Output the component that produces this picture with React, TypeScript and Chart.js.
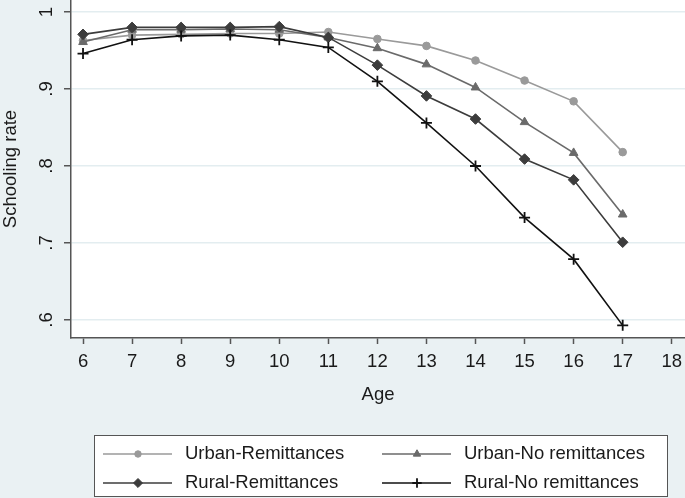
import { useEffect, useRef } from 'react';
import { Chart, registerables } from 'chart.js';
import { drawPoint } from 'chart.js/helpers';

Chart.register(...registerables);

// ---- data ----
const ages = [6, 7, 8, 9, 10, 11, 12, 13, 14, 15, 16, 17];
const xTicks = [6, 7, 8, 9, 10, 11, 12, 13, 14, 15, 16, 17, 18];
const yTicks = [0.6, 0.7, 0.8, 0.9, 1];
const seriesNames = ['Urban-Remittances', 'Urban-No remittances', 'Rural-Remittances', 'Rural-No remittances'];
const urbanRemittances = [0.963, 0.970, 0.971, 0.972, 0.972, 0.974, 0.965, 0.956, 0.937, 0.911, 0.884, 0.818];
const urbanNoRemittances = [0.961, 0.977, 0.977, 0.978, 0.977, 0.967, 0.953, 0.932, 0.902, 0.857, 0.817, 0.737];
const ruralRemittances = [0.971, 0.980, 0.980, 0.980, 0.981, 0.967, 0.931, 0.891, 0.861, 0.809, 0.782, 0.701];
const ruralNoRemittances = [0.946, 0.964, 0.969, 0.970, 0.964, 0.954, 0.910, 0.856, 0.800, 0.733, 0.679, 0.593];

const FONT = "'Liberation Sans', Arial, Helvetica, sans-serif";
const BG = '#eaf1f3';

const bgPlugin = {
  id: 'stataBg',
  beforeDraw(chart: any) {
    const { ctx, chartArea } = chart;
    ctx.save();
    ctx.fillStyle = BG;
    ctx.fillRect(0, 0, chart.width, chart.height);
    ctx.fillStyle = '#ffffff';
    ctx.fillRect(chartArea.left, chartArea.top, chartArea.right - chartArea.left, chartArea.bottom - chartArea.top);
    ctx.restore();
  },
};

const legendPlugin = {
  id: 'stataLegend',
  afterDraw(chart: any) {
    const { ctx } = chart;
    ctx.save();
    ctx.fillStyle = '#ffffff';
    ctx.fillRect(94, 435, 573, 62);
    ctx.strokeStyle = '#555555';
    ctx.lineWidth = 1;
    ctx.strokeRect(94.5, 435.5, 573, 61);
    const colX = [103, 382];
    const rowY = [454, 483];
    chart.data.datasets.forEach((ds: any, i: number) => {
      const x0 = colX[i % 2];
      const y = rowY[Math.floor(i / 2)];
      ctx.strokeStyle = ds.borderColor;
      ctx.lineWidth = ds.borderWidth;
      ctx.beginPath();
      ctx.moveTo(x0, y);
      ctx.lineTo(x0 + 69, y);
      ctx.stroke();
      ctx.fillStyle = ds.pointBackgroundColor;
      ctx.strokeStyle = ds.pointBorderColor;
      ctx.lineWidth = ds.pointBorderWidth;
      drawPoint(ctx, { pointStyle: ds.pointStyle, radius: ds.pointRadius * 0.85, rotation: 0, borderWidth: ds.pointBorderWidth }, x0 + 35, y);
      ctx.fillStyle = '#1a1a1a';
      ctx.font = `18.5px ${FONT}`;
      ctx.textAlign = 'left';
      ctx.textBaseline = 'middle';
      ctx.fillText(ds.label, x0 + 82, y);
    });
    ctx.restore();
  },
};

const mk = (label: string, values: number[], color: string, style: string, radius: number, order: number) => ({
  label,
  data: ages.map((a, i) => ({ x: a, y: values[i] })),
  borderColor: color,
  borderWidth: 1.6,
  pointStyle: style,
  pointRadius: radius,
  pointBackgroundColor: color,
  pointBorderColor: color,
  pointBorderWidth: style === 'cross' ? 1.8 : 1,
  tension: 0,
  fill: false,
  order,
});

export default function App() {
  const ref = useRef<HTMLCanvasElement>(null);
  useEffect(() => {
    if (!ref.current) return;
    const chart = new Chart(ref.current, {
      type: 'line',
      data: {
        datasets: [
          mk(seriesNames[0], urbanRemittances, '#9a9a9a', 'circle', 3.8, 4),
          mk(seriesNames[1], urbanNoRemittances, '#6a6a6a', 'triangle', 5, 3),
          mk(seriesNames[2], ruralRemittances, '#3c3c3c', 'rectRot', 5.3, 2),
          mk(seriesNames[3], ruralNoRemittances, '#111111', 'cross', 5.5, 1),
        ] as any,
      },
      options: {
        animation: false,
        responsive: false,
        devicePixelRatio: 1,
        layout: { padding: 0, autoPadding: false },
        plugins: { legend: { display: false }, tooltip: { enabled: false } },
        scales: {
          x: {
            type: 'linear',
            min: 5.755,
            max: 18.27,
            afterBuildTicks: (s: any) => { s.ticks = xTicks.map((v) => ({ value: v })); },
            afterFit: (s: any) => { s.height = 160; s.paddingLeft = 0; s.paddingRight = 0; },
            ticks: { font: { family: FONT, size: 18.5 }, color: '#1a1a1a', padding: 7, maxRotation: 0, autoSkip: false, callback: (v: any) => String(v) },
            grid: { drawOnChartArea: false, drawTicks: true, tickLength: 6, tickColor: '#555555', tickWidth: 1.5 },
            border: { display: true, color: '#555555', width: 1.5 },
            title: { display: true, text: 'Age', font: { family: FONT, size: 18.5 }, color: '#1a1a1a', padding: { top: 0, bottom: 92 } },
          },
          y: {
            type: 'linear',
            min: 0.5766,
            max: 1.0156,
            afterBuildTicks: (s: any) => { s.ticks = yTicks.map((v) => ({ value: v })); },
            afterFit: (s: any) => { s.width = 71; s.paddingTop = 0; s.paddingBottom = 0; },
            ticks: {
              font: { family: FONT, size: 18.5 }, color: '#1a1a1a', padding: 9, minRotation: 90, maxRotation: 90, crossAlign: 'center', autoSkip: false,
              callback: (v: any) => (Math.abs(v - 1) < 1e-9 ? '1' : '.' + Math.round(v * 10)),
            },
            grid: { color: '#e3edf0', lineWidth: 1.5, tickLength: 7, tickColor: '#555555', tickWidth: 1.5 },
            border: { display: true, color: '#555555', width: 1.5 },
            title: { display: true, text: 'Schooling rate', font: { family: FONT, size: 18.5 }, color: '#1a1a1a', padding: { top: 0, bottom: 0 } },
          },
        },
      } as any,
      plugins: [bgPlugin, legendPlugin],
    });
    return () => chart.destroy();
  }, []);
  return (
    <div style={{ position: 'absolute', left: 0, top: 0, width: 685, height: 498 }}>
      <canvas ref={ref} width={685} height={498} style={{ width: 685, height: 498, display: 'block' }} />
    </div>
  );
}
